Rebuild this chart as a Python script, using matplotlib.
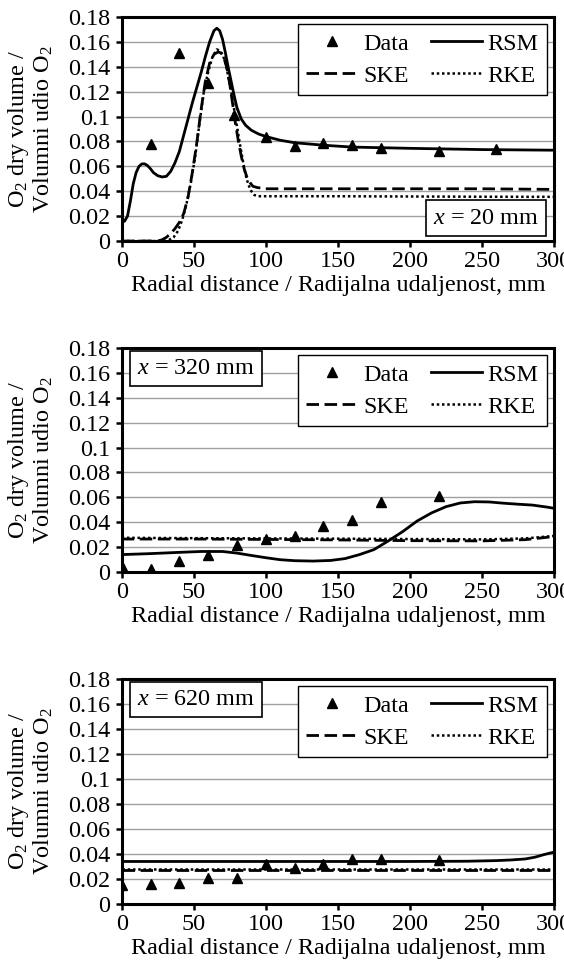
# O2 dry volume fraction vs radial distance at three axial positions
# measured data compared with RSM, SKE and RKE turbulence models

import numpy as np
import matplotlib
matplotlib.use("Agg")
import matplotlib.pyplot as plt
from matplotlib.ticker import FuncFormatter, MultipleLocator

plt.rcParams['font.family'] = ['Liberation Serif', 'DejaVu Serif']
plt.rcParams['mathtext.fontset'] = 'custom'
plt.rcParams['mathtext.rm'] = 'Liberation Serif'
plt.rcParams['mathtext.it'] = 'Liberation Serif:italic'
plt.rcParams['font.size'] = 17.4

#---------------------------------------------------------------------------------
# x = 20 mm
data_r_20 = [20, 40, 60, 78, 100, 120, 140, 160, 180, 220, 260]
data_o2_20 = [0.078, 0.151, 0.127, 0.101, 0.084, 0.0766, 0.079, 0.077, 0.075, 0.072, 0.074]

rsm_r_20 = [0, 2, 4, 6, 8, 10, 12, 14, 16, 18, 20, 22, 25, 28, 31, 34, 37, 40, 43, 46, 49,
            52, 55, 58, 61, 64, 66, 68, 70, 72, 74, 76, 78, 80, 83, 86, 90, 95, 100, 110,
            120, 140, 160, 180, 200, 250, 300]
rsm_o2_20 = [0.015, 0.016, 0.020, 0.032, 0.046, 0.055, 0.060, 0.062, 0.062, 0.0605, 0.058,
             0.055, 0.0525, 0.0515, 0.052, 0.056, 0.063, 0.072, 0.085, 0.098, 0.111, 0.123,
             0.135, 0.148, 0.160, 0.169, 0.171, 0.169, 0.162, 0.151, 0.139, 0.128, 0.117,
             0.107, 0.098, 0.093, 0.089, 0.086, 0.084, 0.081, 0.079, 0.077, 0.0755, 0.075,
             0.0745, 0.0735, 0.073]

ske_r_20 = [0, 25, 28, 31, 34, 37, 40, 43, 46, 49, 52, 55, 58, 61, 64, 67, 69, 71, 73, 75,
            77, 79, 81, 83, 85, 87, 89, 91, 94, 97, 100, 150, 200, 250, 300]
ske_o2_20 = [0, 0, 0.001, 0.003, 0.006, 0.010, 0.015, 0.022, 0.035, 0.055, 0.078, 0.105,
             0.128, 0.143, 0.150, 0.152, 0.151, 0.147, 0.139, 0.126, 0.110, 0.094, 0.080,
             0.068, 0.058, 0.051, 0.047, 0.044, 0.043, 0.0425, 0.042, 0.042, 0.042, 0.042,
             0.0415]

rke_r_20 = [0, 30, 33, 36, 39, 42, 45, 48, 51, 54, 57, 60, 63, 66, 68, 70, 72, 74, 76, 78,
            80, 82, 84, 86, 88, 90, 92, 95, 100, 150, 200, 250, 300]
rke_o2_20 = [0, 0, 0.001, 0.003, 0.008, 0.017, 0.030, 0.047, 0.068, 0.095, 0.120, 0.136,
             0.148, 0.154, 0.153, 0.150, 0.143, 0.132, 0.120, 0.106, 0.092, 0.078, 0.065,
             0.053, 0.045, 0.040, 0.037, 0.036, 0.036, 0.036, 0.0358, 0.0356, 0.0355]

#---------------------------------------------------------------------------------
# x = 320 mm
data_r_320 = [0, 20, 40, 60, 80, 100, 120, 140, 160, 180, 220]
data_o2_320 = [0.0045, 0.0027, 0.0088, 0.0139, 0.022, 0.0267, 0.0293, 0.0373, 0.042, 0.056, 0.0608]

rsm_r_320 = [0, 20, 40, 55, 70, 80, 90, 100, 110, 120, 133, 145, 155, 165, 175, 185, 195,
             205, 215, 225, 235, 245, 255, 265, 275, 285, 295, 300]
rsm_o2_320 = [0.014, 0.0148, 0.0158, 0.0165, 0.0165, 0.0152, 0.0133, 0.0115, 0.0099, 0.0091,
              0.0088, 0.0093, 0.0108, 0.0140, 0.0180, 0.0250, 0.0325, 0.0410, 0.0475, 0.0525,
              0.0555, 0.0565, 0.0563, 0.0553, 0.0545, 0.0538, 0.0522, 0.0512]

ske_r_320 = [0, 50, 100, 150, 200, 250, 280, 300]
ske_o2_320 = [0.0265, 0.0265, 0.0262, 0.0258, 0.0252, 0.025, 0.026, 0.0285]
rke_r_320 = [0, 50, 100, 150, 200, 250, 280, 300]
rke_o2_320 = [0.0275, 0.0272, 0.027, 0.0268, 0.0265, 0.0262, 0.027, 0.029]

#---------------------------------------------------------------------------------
# x = 620 mm
data_r_620 = [0, 20, 40, 60, 80, 100, 120, 140, 160, 180, 220]
data_o2_620 = [0.0148, 0.0161, 0.0167, 0.021, 0.021, 0.0317, 0.029, 0.0317, 0.0357, 0.0357, 0.0355]

rsm_r_620 = [0, 50, 100, 150, 200, 240, 260, 270, 280, 287, 293, 300]
rsm_o2_620 = [0.034, 0.034, 0.034, 0.034, 0.034, 0.0342, 0.0347, 0.0352, 0.036, 0.0375,
              0.0395, 0.0415]

ske_r_620 = [0, 100, 200, 300]
ske_o2_620 = [0.0272, 0.0272, 0.0272, 0.0272]
rke_r_620 = [0, 100, 200, 300]
rke_o2_620 = [0.0278, 0.0278, 0.0278, 0.0278]

#---------------------------------------------------------------------------------
fig = plt.figure(figsize=(5.64, 9.63), dpi=100)

# axes boxes in figure fractions (left, bottom, width, height)
boxes = [[0.2158, 0.7497, 0.7665, 0.2326],
         [0.2158, 0.4060, 0.7665, 0.2326],
         [0.2158, 0.0613, 0.7665, 0.2336]]


def draw_panel(box, dr, do, rr, ro, sr, so, kr, ko, label, label_loc):
    ax = fig.add_axes(box)
    ax.set_xlim(0, 300)
    ax.set_ylim(0, 0.18)
    ax.yaxis.set_major_locator(MultipleLocator(0.02))
    ax.xaxis.set_major_locator(MultipleLocator(50))
    ax.yaxis.set_major_formatter(FuncFormatter(lambda v, p: '%g' % round(v, 3)))
    ax.grid(axis='y', color='#a0a0a0', linewidth=1.0)
    ax.set_axisbelow(True)
    for s in ax.spines.values():
        s.set_linewidth(2.2)
    ax.tick_params(axis='both', direction='out', length=4.5, width=1.8)
    ax.tick_params(axis='y', pad=3.5)
    ax.tick_params(axis='x', pad=3)

    data, = ax.plot(dr, do, linestyle='none', marker='^', markersize=7.2, color='black')
    rsm, = ax.plot(rr, ro, color='black', linewidth=2.0)
    ske, = ax.plot(sr, so, color='black', linewidth=2.0, dashes=(4.5, 2))
    rke, = ax.plot(kr, ko, color='black', linewidth=1.8, dashes=(1, 1.1))

    ax.legend([data, ske, rsm, rke], ['Data', 'SKE', 'RSM', 'RKE'], ncol=2,
              loc='upper right', fancybox=False, edgecolor='black', framealpha=1,
              handlelength=2.15, columnspacing=0.9, handletextpad=0.2,
              borderaxespad=0.3, labelspacing=0.42, borderpad=0.35)

    if label_loc == 'lower right':
        ax.text(0.965, 0.055, label, transform=ax.transAxes, ha='right', va='bottom',
                bbox=dict(boxstyle='square,pad=0.3', facecolor='white', edgecolor='black', linewidth=1.2))
    else:
        ax.text(0.035, 0.955, label, transform=ax.transAxes, ha='left', va='top',
                bbox=dict(boxstyle='square,pad=0.3', facecolor='white', edgecolor='black', linewidth=1.2))

    ax.set_xlabel('Radial distance / Radijalna udaljenost, mm', labelpad=2)
    ax.set_ylabel('O$_2$ dry volume /\nVolumni udio O$_2$', linespacing=1.05)
    ax.yaxis.set_label_coords(-0.154, 0.5)
    return ax


draw_panel(boxes[0], data_r_20, data_o2_20, rsm_r_20, rsm_o2_20, ske_r_20, ske_o2_20,
           rke_r_20, rke_o2_20, '$x$ = 20 mm', 'lower right')
draw_panel(boxes[1], data_r_320, data_o2_320, rsm_r_320, rsm_o2_320, ske_r_320, ske_o2_320,
           rke_r_320, rke_o2_320, '$x$ = 320 mm', 'upper left')
draw_panel(boxes[2], data_r_620, data_o2_620, rsm_r_620, rsm_o2_620, ske_r_620, ske_o2_620,
           rke_r_620, rke_o2_620, '$x$ = 620 mm', 'upper left')

fig.savefig('out.png', dpi=100)
